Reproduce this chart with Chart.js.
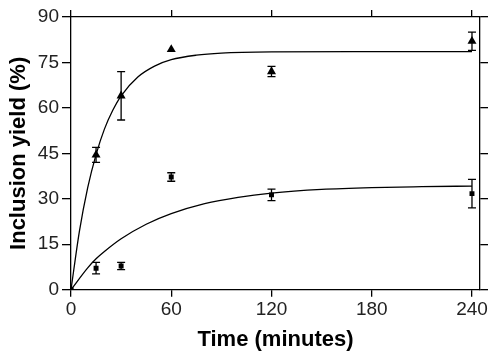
<!DOCTYPE html>
<html>
<head>
<meta charset="utf-8">
<script src="https://cdn.jsdelivr.net/npm/chart.js@4/dist/chart.umd.min.js"></script>
<style>
html,body{margin:0;padding:0;background:#fff;}
#wrap{width:500px;height:357px;position:relative;}
</style>
</head>
<body>
<div id="wrap"><canvas id="c" width="500" height="357"></canvas></div>
<script>
// Measured data
const times = [0, 15, 30, 60, 120, 240];
const triVals = [0, 44.5, 64, 79.3, 72, 82];
const triErr  = [0, 2.5, 8, 0, 1.7, 3];
const sqVals  = [0, 7.1, 7.8, 37.2, 31.3, 31.7];
const sqErr   = [0, 1.9, 1.2, 1.4, 1.9, 4.7];

// Fitted curves
const fitTimesTri = [0, 5, 10, 15, 20, 25, 30, 40, 50, 60, 75, 90, 120, 180, 240];
const fitTri      = [0, 19.2, 33.7, 44.6, 53.0, 59.2, 64.0, 70.2, 73.8, 75.9, 77.4, 78.1, 78.5, 78.6, 78.6];
const fitTimesSq  = [0, 10, 15, 20, 30, 45, 60, 80, 100, 120, 150, 180, 210, 240];
const fitSq       = [0, 7.2, 10.2, 12.6, 16.8, 21.6, 25.1, 28.4, 30.5, 31.9, 33.1, 33.7, 34.0, 34.2];

const xTicks = [0, 60, 120, 180, 240];
const yTicks = [0, 15, 30, 45, 60, 75, 90];
const xTitle = 'Time (minutes)';
const yTitle = 'Inclusion yield (%)';

const pts = (xs, ys) => xs.map((x, i) => ({x: x, y: ys[i]}));

const FONT = "'Liberation Sans', Arial, sans-serif";

const errorBars = {
  id: 'errorBars',
  afterDatasetsDraw(chart) {
    const ctx = chart.ctx;
    const xs = chart.scales.x, ys = chart.scales.y;
    chart.data.datasets.forEach(ds => {
      if (!ds.errors) return;
      ctx.save();
      ctx.strokeStyle = '#000';
      ctx.lineWidth = 1.3;
      ds.data.forEach((p, i) => {
        const e = ds.errors[i];
        if (!e) return;
        const px = xs.getPixelForValue(p.x);
        const yt = ys.getPixelForValue(p.y + e);
        const yb = ys.getPixelForValue(p.y - e);
        const cw = 4;
        ctx.beginPath();
        ctx.moveTo(px, yt); ctx.lineTo(px, yb);
        ctx.moveTo(px - cw, yt); ctx.lineTo(px + cw, yt);
        ctx.moveTo(px - cw, yb); ctx.lineTo(px + cw, yb);
        ctx.stroke();
      });
      ctx.restore();
    });
  }
};

const setTicks = arr => scale => { scale.ticks = arr.map(v => ({value: v})); };

const axisCommon = (tl) => ({
  border: {display: true, color: '#000', width: 1.3},
  grid: {display: true, drawOnChartArea: false, drawTicks: true, tickLength: tl, color: '#000', lineWidth: 1.3}
});

new Chart(document.getElementById('c'), {
  type: 'scatter',
  data: {
    datasets: [
      {
        data: pts(fitTimesTri, fitTri), showLine: true, pointRadius: 0,
        borderColor: '#000', borderWidth: 1.3, cubicInterpolationMode: 'monotone', fill: false
      },
      {
        data: pts(fitTimesSq, fitSq), showLine: true, pointRadius: 0,
        borderColor: '#000', borderWidth: 1.3, cubicInterpolationMode: 'monotone', fill: false
      },
      {
        data: pts(times, sqVals), errors: sqErr, pointStyle: 'rect', pointRadius: 3.5,
        backgroundColor: '#000', borderColor: '#000', borderWidth: 0
      },
      {
        data: pts(times, triVals), errors: triErr, pointStyle: 'triangle', pointRadius: 5.2,
        backgroundColor: '#000', borderColor: '#000', borderWidth: 0
      }
    ]
  },
  options: {
    responsive: false,
    animation: false,
    devicePixelRatio: 1,
    layout: {padding: 0},
    plugins: {legend: {display: false}, tooltip: {enabled: false}},
    scales: {
      x: Object.assign(axisCommon(7), {
        type: 'linear', position: 'bottom', min: 0, max: 244.8,
        afterBuildTicks: setTicks(xTicks),
        afterFit: s => { s.height = 67.3; },
        ticks: {color: '#222', font: {family: FONT, size: 19}, padding: 2, maxRotation: 0, autoSkip: false},
        title: {display: true, text: xTitle, color: '#000', font: {family: FONT, size: 22, weight: 'bold'}, padding: {top: 0, bottom: 3.6}}
      }),
      x2: Object.assign(axisCommon(7), {
        type: 'linear', position: 'top', min: 0, max: 244.8,
        afterBuildTicks: setTicks(xTicks),
        afterFit: s => { s.height = 17; },
        ticks: {display: false}
      }),
      y: Object.assign(axisCommon(9), {
        type: 'linear', position: 'left', min: 0, max: 90,
        afterBuildTicks: setTicks(yTicks),
        afterFit: s => { s.width = 71; },
        ticks: {color: '#222', font: {family: FONT, size: 19}, padding: 3, autoSkip: false},
        title: {display: true, text: yTitle, color: '#000', font: {family: FONT, size: 22, weight: 'bold'}, padding: {top: 5.6, bottom: 0}}
      }),
      y2: Object.assign(axisCommon(8), {
        type: 'linear', position: 'right', min: 0, max: 90,
        afterBuildTicks: setTicks(yTicks),
        afterFit: s => { s.width = 20; },
        ticks: {display: false}
      })
    }
  },
  plugins: [errorBars]
});
</script>
</body>
</html>
